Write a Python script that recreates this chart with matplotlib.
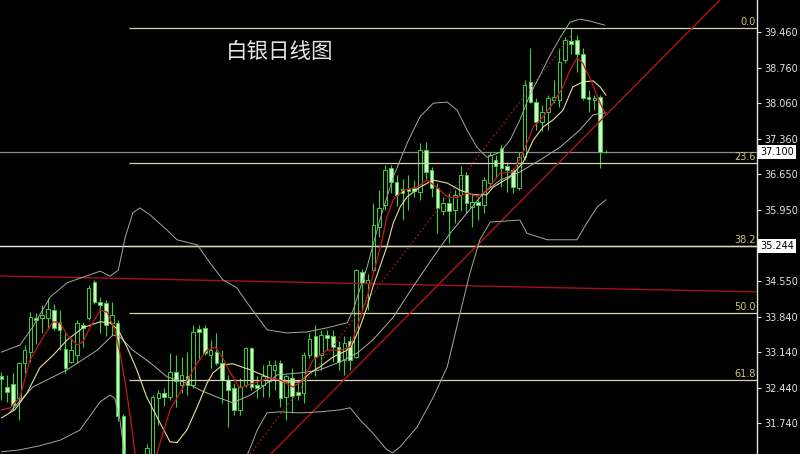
import matplotlib
matplotlib.use('Agg')
import matplotlib.pyplot as plt

# daily silver candles (index 0 = leftmost bar)
opens = [32.67, 32.46, 32.52, 32.23, 32.92, 33.15, 33.82, 33.81, 33.81, 33.97,
         33.74, 33.21, 32.95, 33.08, 33.67, 33.81, 34.53, 34.13, 34.12, 33.71,
         33.71, 31.87, 30.90, 29.40, 30.20, 30.80, 31.10, 32.23, 32.33, 32.26,
         32.75, 32.49, 32.66, 32.49, 33.59, 33.61, 33.08, 33.15, 32.92, 32.59,
         32.43, 32.00, 32.49, 33.22, 32.49, 32.50, 32.56, 32.79, 32.93, 32.26,
         32.62, 32.36, 32.33, 33.08, 33.45, 33.08, 33.48, 33.45, 33.25, 32.98,
         33.35, 33.05, 34.73, 34.50, 34.76, 35.62, 36.05, 36.77, 36.51, 36.36,
         36.36, 36.38, 36.31, 37.13, 36.74, 36.38, 35.92, 36.08, 35.95, 36.25,
         36.64, 36.01, 36.11, 36.05, 36.48, 36.94, 37.17, 36.81, 36.74, 36.38,
         37.00, 38.48, 38.09, 37.69, 37.89, 38.12, 38.12, 38.91, 39.29, 39.31,
         39.04, 38.19, 38.12, 38.18, 37.10]
highs = [32.75, 32.69, 32.72, 32.95, 33.28, 33.94, 33.91, 34.07, 34.20, 34.10,
         33.97, 33.51, 33.41, 33.77, 33.74, 34.46, 34.56, 34.23, 34.17, 34.13,
         33.77, 31.92, 31.00, 30.50, 31.00, 31.33, 32.30, 32.39, 32.43, 33.12,
         33.08, 33.05, 33.15, 33.68, 33.68, 33.68, 33.38, 33.51, 33.18, 32.69,
         32.53, 32.62, 33.25, 33.25, 32.66, 32.88, 32.98, 32.98, 32.98, 32.69,
         32.82, 32.59, 33.15, 33.51, 33.68, 33.58, 33.58, 33.58, 33.35, 33.45,
         33.45, 34.79, 34.79, 34.69, 36.08, 36.34, 36.84, 36.84, 36.64, 36.57,
         36.64, 36.54, 37.27, 37.30, 36.80, 36.48, 36.21, 36.28, 36.34, 36.82,
         36.70, 36.28, 36.21, 36.61, 37.10, 37.04, 37.23, 36.90, 36.77, 37.10,
         38.52, 39.14, 38.16, 38.03, 38.22, 38.52, 39.14, 39.37, 39.54, 39.41,
         39.14, 38.32, 38.22, 38.22, 37.14]
lows = [32.19, 32.16, 31.99, 31.80, 32.72, 32.95, 33.31, 33.51, 33.61, 33.58,
        33.18, 32.72, 32.92, 32.92, 33.25, 33.77, 34.10, 33.51, 33.45, 33.48,
        31.77, 30.60, 28.29, 29.00, 30.00, 30.70, 31.00, 31.70, 32.08, 32.20,
        32.06, 32.33, 32.29, 32.43, 32.98, 33.08, 32.82, 32.88, 32.13, 31.67,
        31.90, 31.90, 32.46, 32.39, 32.23, 32.26, 32.26, 32.39, 32.06, 31.80,
        31.93, 32.20, 32.13, 33.02, 32.66, 32.79, 33.18, 32.95, 32.79, 32.69,
        32.79, 33.02, 33.97, 33.97, 34.73, 35.42, 35.95, 36.28, 36.02, 35.75,
        35.95, 36.21, 36.15, 36.57, 36.21, 35.49, 35.85, 35.29, 35.69, 35.92,
        35.88, 35.62, 35.75, 35.88, 36.41, 36.58, 36.41, 36.31, 36.28, 36.34,
        36.94, 38.06, 37.53, 37.50, 37.53, 38.06, 37.99, 38.85, 39.04, 38.68,
        38.12, 37.89, 37.92, 36.77, 37.08]
closes = [32.61, 32.36, 32.10, 32.92, 33.19, 33.84, 33.77, 33.87, 34.00, 33.61,
          33.58, 32.82, 33.18, 33.71, 33.61, 34.40, 34.13, 34.07, 33.67, 33.87,
          31.87, 30.90, 29.40, 30.20, 30.80, 31.25, 32.26, 32.34, 32.26, 32.75,
          32.56, 32.69, 32.49, 33.54, 33.54, 33.12, 33.18, 32.92, 32.59, 32.39,
          32.00, 32.46, 33.22, 32.46, 32.43, 32.66, 32.89, 32.88, 32.23, 32.66,
          32.27, 32.29, 33.08, 33.39, 33.05, 33.48, 33.41, 33.25, 32.95, 33.32,
          32.98, 34.76, 34.50, 34.56, 35.65, 35.98, 36.74, 36.51, 36.25, 36.28,
          36.33, 36.33, 37.13, 36.70, 36.38, 35.98, 36.08, 35.92, 36.25, 36.64,
          36.08, 36.11, 36.05, 36.54, 37.04, 36.81, 36.77, 36.74, 36.41, 37.00,
          38.42, 38.09, 37.69, 37.89, 38.16, 38.19, 38.88, 39.31, 39.23, 39.04,
          38.16, 38.14, 38.16, 37.10, 37.10]

# indicator lines, read at bar positions
red_idx = [0, 1.5, 3.2, 4.9, 7.2, 8.9, 10.1, 11.3, 13.0, 14.0,
           15.2, 17.0, 18.2, 19.5, 20.4, 21.3, 22.5, 23.3, 24.5, 25.5,
           26.8, 29.0, 31.2, 33.7, 35.4, 36.8, 38.1, 39.3, 41.0, 42.3,
           44.0, 46.2, 47.9, 50.2, 51.9, 53.6, 56.0, 58.3, 60.0, 61.2,
           62.9, 64.3, 65.5, 66.3, 67.4, 69.1, 71.5, 73.2, 74.9, 76.7,
           78.4, 80.1, 81.8, 83.5, 85.8, 88.0, 89.7, 91.5, 93.2, 94.9,
           96.6, 97.8, 99.0, 100.0, 101.6, 103.0, 104.0]
red_val = [32.00, 32.04, 32.25, 32.98, 33.44, 33.74, 33.72, 33.48, 33.28, 33.34,
           33.62, 33.97, 33.93, 33.58, 33.12, 32.53, 31.60, 30.81, 30.50, 30.70,
           31.15, 32.00, 32.43, 32.93, 33.18, 33.24, 33.02, 32.75, 32.43, 32.49,
           32.55, 32.63, 32.59, 32.45, 32.59, 32.98, 33.18, 33.18, 33.24, 33.64,
           34.23, 34.82, 35.36, 35.81, 36.15, 36.34, 36.40, 36.54, 36.40, 36.21,
           36.19, 36.28, 36.21, 36.34, 36.68, 36.70, 37.07, 37.59, 37.79, 38.06,
           38.38, 38.71, 38.95, 38.85, 38.46, 38.06, 37.83]

yel_idx = [0, 2.3, 4.4, 6.6, 8.9, 11.3, 14.0, 17.0, 18.7, 20.1,
           21.6, 23.3, 25.0, 27.3, 29.0, 30.2, 31.9, 33.7, 35.4, 36.4,
           38.1, 39.8, 42.8, 45.7, 48.4, 51.4, 53.1, 54.8, 57.0, 59.5,
           60.5, 61.7, 62.9, 63.9, 65.1, 66.3, 67.4, 68.6, 69.8, 72.0,
           74.3, 76.7, 78.9, 81.1, 83.5, 84.6, 87.5, 89.7, 91.5, 93.2,
           94.9, 96.6, 98.3, 100.0, 101.8, 103.0, 104.0]
yel_val = [31.84, 32.00, 32.33, 32.83, 33.08, 33.38, 33.62, 33.74, 33.72, 33.58,
           33.24, 32.79, 32.25, 31.74, 31.37, 31.35, 31.60, 32.06, 32.53, 32.73,
           32.89, 32.91, 32.79, 32.65, 32.55, 32.55, 32.73, 32.85, 33.04, 33.18,
           33.32, 33.64, 34.03, 34.43, 34.82, 35.22, 35.69, 36.01, 36.21, 36.40,
           36.54, 36.48, 36.34, 36.25, 36.25, 36.40, 36.60, 36.88, 37.33, 37.59,
           37.73, 37.92, 38.38, 38.48, 38.50, 38.38, 38.22]

mid_idx = [1.5, 5.4, 11.3, 16.5, 19.2, 20.4, 22.6, 25.6, 28.5, 31.9,
           34.2, 37.1, 39.8, 42.8, 45.3, 47.4, 51.4, 54.8, 58.3, 61.2,
           63.9, 67.4, 70.8, 74.3, 77.2, 80.1, 82.9, 85.8, 89.2, 92.7,
           96.1, 99.5, 101.8, 104.0]
mid_val = [31.96, 32.45, 32.79, 33.18, 33.48, 33.44, 33.18, 32.93, 32.65, 32.53,
           32.39, 32.25, 32.14, 32.29, 32.49, 32.69, 32.73, 32.79, 32.95, 33.12,
           33.38, 33.83, 34.43, 35.02, 35.49, 35.89, 36.28, 36.54, 36.70, 36.94,
           37.19, 37.53, 37.83, 37.87]

bb_up_idx = [0, 3.2, 5.4, 8.4, 11.3, 14.0, 17.0, 18.7, 20.1, 21.3,
             22.6, 23.8, 25.6, 28.5, 30.2, 33.7, 35.9, 38.1, 40.5, 42.3,
             45.7, 49.1, 52.6, 56.0, 59.5, 60.5, 62.9, 65.1, 67.4, 69.8,
             72.0, 74.3, 76.7, 78.4, 80.1, 81.8, 83.5, 85.8, 87.5, 89.2,
             90.9, 92.7, 94.4, 96.1, 97.8, 99.5, 101.3, 103.8]
bb_up_val = [33.14, 33.28, 33.64, 34.23, 34.51, 34.62, 34.74, 34.64, 34.76, 35.41,
             35.89, 35.99, 35.85, 35.55, 35.36, 35.26, 34.90, 34.57, 34.41, 34.11,
             33.58, 33.52, 33.54, 33.62, 33.72, 33.97, 34.82, 35.75, 36.60, 37.27,
             37.79, 38.06, 38.08, 37.92, 37.53, 37.19, 36.99, 37.09, 37.33, 37.73,
             38.22, 38.62, 39.01, 39.35, 39.66, 39.72, 39.68, 39.60]

bb_lo_idx = [0, 3.2, 6.6, 10.1, 13.5, 17.0, 18.7, 19.5, 20.4, 21.3,
             22.1, 25.0, 32.0, 38.0, 41.5, 43.0, 44.0, 45.7, 47.9, 51.4,
             54.8, 58.3, 60.0, 61.7, 63.9, 66.3, 67.3, 68.6, 71.5, 74.3,
             76.7, 78.9, 80.6, 82.3, 84.1, 89.2, 90.4, 93.9, 99.0, 100.7,
             102.5, 104.0]
bb_lo_val = [31.17, 31.21, 31.29, 31.40, 31.60, 32.16, 32.29, 32.23, 31.80, 31.01,
             29.80, 29.30, 29.30, 29.90, 30.90, 31.30, 31.60, 31.94, 31.96, 31.94,
             31.96, 32.00, 32.04, 31.80, 31.54, 31.21, 31.15, 31.27, 31.66, 32.25,
             32.85, 33.91, 34.70, 35.36, 35.71, 35.75, 35.49, 35.36, 35.36, 35.69,
             36.01, 36.15]

# drawn objects
hz_trend_idx = [-0.24, 130.0]
hz_trend_val = [34.645, 34.33]
up_trend_idx = [45.5, 123.6]
up_trend_val = [31.03, 40.10]
dot_trend_idx = [42.8, 98.2]
dot_trend_val = [31.13, 39.43]

fib_high = 39.54
fib_low = 28.29
fib_start = 22
fib_ratios = [0.0, 23.6, 38.2, 50.0, 61.8]

hline_level = 35.244
last_price = 37.10
ticks = [39.46, 38.76, 38.06, 37.36, 36.65, 35.95, 34.55, 33.84, 33.14, 32.44, 31.74]

x_left, x_right = -0.24, 129.98
y_low, y_high = 31.127, 40.098

green = '#3ccf3c'
pale = '#cdf5c6'

fig = plt.figure(figsize=(8, 4.54), dpi=100)
fig.patch.set_facecolor('black')
ax = fig.add_axes([0, 0, 757 / 800, 1])
ax.set_facecolor('black')

# candles
idx = list(range(len(closes)))
ax.vlines(idx, lows, highs, color=green, lw=0.8, zorder=2)
up = [i for i in idx if closes[i] >= opens[i]]
dn = [i for i in idx if closes[i] < opens[i]]
ax.bar(up, [closes[i] - opens[i] for i in up], bottom=[opens[i] for i in up],
       width=0.62, color='black', edgecolor=green, linewidth=0.7, zorder=3)
ax.bar(dn, [opens[i] - closes[i] for i in dn], bottom=[closes[i] for i in dn],
       width=0.62, color=pale, edgecolor=green, linewidth=0.7, zorder=3)

# horizontal lines
ax.axhline(last_price, color='#8a8a8a', lw=0.9, zorder=1)
ax.axhline(hline_level, color='#ececec', lw=1.0, zorder=1)
for r in fib_ratios:
    lvl = fib_high - r / 100 * (fib_high - fib_low)
    ax.hlines(lvl, fib_start, x_right, color='#d9d5b3', lw=0.9, zorder=4)
    ax.annotate(f'{r:.1f}', xy=(x_right, lvl), xytext=(-1, 0.6), textcoords='offset points',
                ha='right', va='bottom', color='#cfc578', fontsize=7, zorder=6)

# trend lines
ax.plot(hz_trend_idx, hz_trend_val, color='#a5101e', lw=1.0, zorder=4)
ax.plot(up_trend_idx, up_trend_val, color='#b01616', lw=1.0, zorder=4)
ax.plot(dot_trend_idx, dot_trend_val, color='#b01c1c', lw=1.0, ls=(0, (1, 2)), zorder=4)

# indicators
ax.plot(bb_up_idx, bb_up_val, color='#98b098', lw=0.7, zorder=5)
ax.plot(bb_lo_idx, bb_lo_val, color='#98b098', lw=0.7, zorder=5)
ax.plot(mid_idx, mid_val, color='#a9b3a9', lw=0.7, zorder=5)
ax.plot(yel_idx, yel_val, color='#e8df98', lw=0.8, zorder=5)
ax.plot(red_idx, red_val, color='#c8161c', lw=0.9, zorder=5)

ax.set_xlim(x_left, x_right)
ax.set_ylim(y_low, y_high)
ax.set_xticks([])
ax.yaxis.tick_right()
ax.set_yticks(ticks)
ax.set_yticklabels([f'{v:.3f}' for v in ticks])
ax.tick_params(axis='y', colors='#e2e2e2', length=3, width=0.8, pad=2, labelsize=7)
for s in ['top', 'left', 'bottom']:
    ax.spines[s].set_visible(False)
ax.spines['right'].set_color('#e2e2e2')
ax.spines['right'].set_linewidth(1.0)

# value boxes on the price axis
for v in [last_price, hline_level]:
    ax.annotate(f'{v:.3f}', xy=(1, v), xycoords=('axes fraction', 'data'),
                xytext=(2.2, 0), textcoords='offset points', ha='left', va='center',
                fontsize=7, color='black', annotation_clip=False,
                bbox=dict(boxstyle='square,pad=0.2', fc='white', ec='none'))

fig.text(280 / 800, 1 - 52 / 454, '白银日线图', family=['Noto Sans CJK SC', 'DejaVu Sans'],
         fontsize=15.5, color='#e6e6e6', ha='center', va='center')

fig.savefig('out.png', dpi=100, facecolor='black')
